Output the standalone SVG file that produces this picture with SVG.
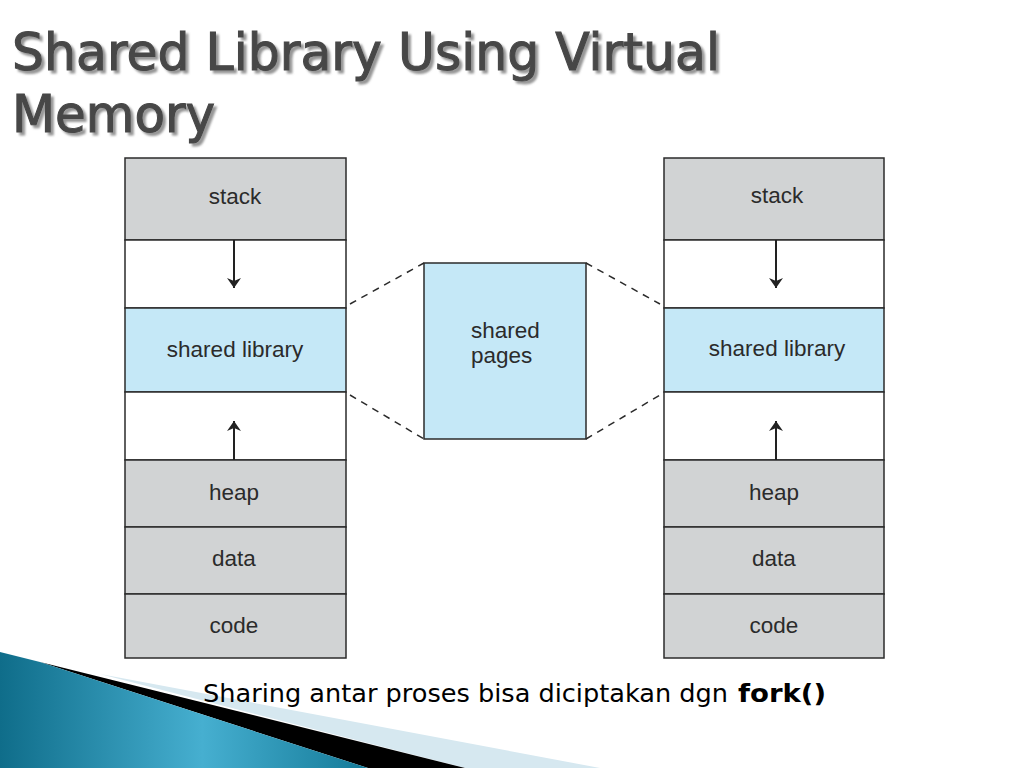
<svg xmlns="http://www.w3.org/2000/svg" width="1024" height="768" viewBox="0 0 1024 768">
<defs>
<linearGradient id="swoosh" x1="0" y1="0" x2="1" y2="0">
<stop offset="0" stop-color="#0f6d8a"/>
<stop offset="0.55" stop-color="#46afd0"/>
<stop offset="1" stop-color="#147a98"/>
</linearGradient>
<filter id="shadow" x="-5%" y="-20%" width="110%" height="140%">
<feDropShadow dx="3" dy="3" stdDeviation="1" flood-color="#8a8a8a" flood-opacity="0.9"/>
</filter>
<marker id="arr" viewBox="0 0 10 14" refX="10" refY="7" markerWidth="10" markerHeight="14" markerUnits="userSpaceOnUse" orient="auto">
<path d="M0,0 L10,7 L0,14 L3,7 Z" fill="#222" transform="rotate(0)"/>
</marker>
<style>
.gray{fill:#d1d3d4;stroke:#2b2b2b;stroke-width:1.5}
.white{fill:#ffffff;stroke:#2b2b2b;stroke-width:1.5}
.blue{fill:#c5e8f7;stroke:#2b2b2b;stroke-width:1.5}
.lbl{font-family:"Liberation Sans",Arial,sans-serif;font-size:22.5px;fill:#2b2b2b;text-anchor:middle}
.lblL{font-family:"Liberation Sans",Arial,sans-serif;font-size:22.5px;fill:#2b2b2b}
.dash{stroke:#2b2b2b;stroke-width:1.5;stroke-dasharray:7 6;fill:none}
.arrow{stroke:#222;stroke-width:2;fill:none}
.title{font-family:"DejaVu Sans Condensed","DejaVu Sans",sans-serif;font-size:52px;fill:#474747;stroke:#474747;stroke-width:1}
</style>
</defs>
<rect width="1024" height="768" fill="#ffffff"/>

<g id="decoration">
<polygon points="100,674 600,768 465,768" fill="#d6e8f0"/>
<polygon points="40,662 465,768 368,768" fill="#000000"/>
<polygon points="0,652 40,662 368,768 0,768" fill="url(#swoosh)"/>
</g>

<g id="title" filter="url(#shadow)">
<text class="title" x="12" y="70" textLength="708" lengthAdjust="spacingAndGlyphs">Shared Library Using Virtual</text>
<text class="title" x="12" y="132" textLength="203" lengthAdjust="spacingAndGlyphs">Memory</text>
</g>

<g id="process-left">
<rect class="gray" x="125" y="158" width="221" height="82"/>
<rect class="white" x="125" y="240" width="221" height="68"/>
<rect class="blue" x="125" y="308" width="221" height="84"/>
<rect class="white" x="125" y="392" width="221" height="68"/>
<rect class="gray" x="125" y="460" width="221" height="67"/>
<rect class="gray" x="125" y="527" width="221" height="67"/>
<rect class="gray" x="125" y="594" width="221" height="64"/>
<text class="lbl" x="235" y="204">stack</text>
<text class="lbl" x="235" y="357">shared library</text>
<text class="lbl" x="234" y="500">heap</text>
<text class="lbl" x="234" y="566">data</text>
<text class="lbl" x="234" y="633">code</text>
</g>

<g id="shared-pages">
<rect class="blue" x="424" y="263" width="162" height="176"/>
<text class="lblL" x="471" y="338">shared</text>
<text class="lblL" x="471" y="363">pages</text>
</g>

<g id="process-right">
<rect class="gray" x="664" y="158" width="220" height="82"/>
<rect class="white" x="664" y="240" width="220" height="68"/>
<rect class="blue" x="664" y="308" width="220" height="84"/>
<rect class="white" x="664" y="392" width="220" height="68"/>
<rect class="gray" x="664" y="460" width="220" height="67"/>
<rect class="gray" x="664" y="527" width="220" height="67"/>
<rect class="gray" x="664" y="594" width="220" height="64"/>
<text class="lbl" x="777" y="203">stack</text>
<text class="lbl" x="777" y="356">shared library</text>
<text class="lbl" x="774" y="500">heap</text>
<text class="lbl" x="774" y="566">data</text>
<text class="lbl" x="774" y="633">code</text>
</g>

<g id="connectors">
<line class="arrow" x1="234" y1="240" x2="234" y2="288" marker-end="url(#arr)"/>
<line class="arrow" x1="234" y1="460" x2="234" y2="421" marker-end="url(#arr)"/>
<line class="arrow" x1="776" y1="240" x2="776" y2="288" marker-end="url(#arr)"/>
<line class="arrow" x1="776" y1="460" x2="776" y2="421" marker-end="url(#arr)"/>
<line class="dash" x1="350" y1="304" x2="424" y2="263"/>
<line class="dash" x1="350" y1="395" x2="424" y2="439"/>
<line class="dash" x1="586" y1="263" x2="660" y2="304"/>
<line class="dash" x1="586" y1="439" x2="660" y2="395"/>
</g>

<g id="caption">
<text x="203" y="702" font-family="'DejaVu Sans',Verdana,sans-serif" font-size="24" fill="#000" textLength="525" lengthAdjust="spacingAndGlyphs">Sharing antar proses bisa diciptakan dgn</text>
<text x="738" y="702" font-family="'DejaVu Sans',Verdana,sans-serif" font-size="24" font-weight="bold" fill="#000" textLength="88" lengthAdjust="spacingAndGlyphs">fork()</text>
</g>
</svg>
